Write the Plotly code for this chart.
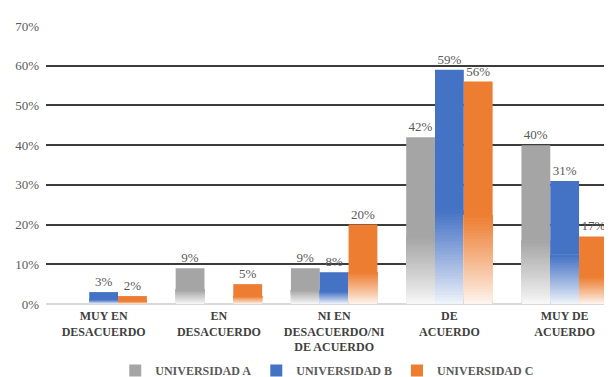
import plotly.graph_objects as go

# ---- data ----
categories = [
    "MUY EN<br>DESACUERDO",
    "EN<br>DESACUERDO",
    "NI EN<br>DESACUERDO/NI<br>DE ACUERDO",
    "DE<br>ACUERDO",
    "MUY DE<br>ACUERDO",
]
series_names = ["UNIVERSIDAD A", "UNIVERSIDAD B", "UNIVERSIDAD C"]
univ_a = [None, 9, 9, 42, 40]
univ_b = [3, None, 8, 59, 31]
univ_c = [2, 5, 20, 56, 17]
y_tick_vals = [0, 10, 20, 30, 40, 50, 60, 70]
y_tick_text = ["0%", "10%", "20%", "30%", "40%", "50%", "60%", "70%"]

# ---- style ----
series_colors = ["#a5a5a5", "#4472c4", "#ed7d31"]
FADE_FRAC = 0.4      # bottom share of each bar that fades to white
N_SLICES = 30
SERIF = "Times New Roman, Liberation Serif, serif"


def hex_to_rgb(h):
    h = h.lstrip("#")
    return tuple(int(h[i:i + 2], 16) for i in (0, 2, 4))


def blend(col, t):
    r, g, b = hex_to_rgb(col)
    return "rgb(%d,%d,%d)" % (
        round(255 + (r - 255) * t),
        round(255 + (g - 255) * t),
        round(255 + (b - 255) * t),
    )


fig = go.Figure()
label_font = dict(family=SERIF, size=13, color="#595959")

for name, vals, col in zip(series_names, [univ_a, univ_b, univ_c], series_colors):
    # full solid bar (carries legend + data label)
    fig.add_trace(go.Bar(
        name=name,
        x=categories,
        y=vals,
        marker=dict(color=col, line=dict(width=0)),
        text=[None if v is None else f"{v}%" for v in vals],
        textposition="outside",
        textfont=label_font,
        cliponaxis=False,
        constraintext="none",
        offsetgroup=name,
        legendgroup=name,
        showlegend=True,
        hoverinfo="skip",
    ))
    # fading lower part: overlapping layers, each reaching the top of the fade zone
    for j in range(N_SLICES):
        t = 0.06 + 0.94 * ((j + 0.5) / N_SLICES) ** 0.9
        fig.add_trace(go.Bar(
            x=categories,
            y=[None if v is None else v * FADE_FRAC * (1 - j / N_SLICES) for v in vals],
            base=[None if v is None else v * FADE_FRAC * j / N_SLICES for v in vals],
            marker=dict(color=blend(col, t), line=dict(width=0)),
            offsetgroup=name,
            legendgroup=name,
            showlegend=False,
            hoverinfo="skip",
        ))

fig.update_layout(
    width=612,
    height=377,
    margin=dict(l=38, r=0, t=18, b=80),
    paper_bgcolor="white",
    plot_bgcolor="white",
    barmode="group",
    bargap=0.25,
    bargroupgap=0,
    showlegend=True,
    legend=dict(
        orientation="h",
        x=0.49,
        xanchor="center",
        y=-0.24,
        yanchor="middle",
        font=dict(family=SERIF, size=12, color="#595959", weight="bold"),
        itemclick=False,
        itemdoubleclick=False,
    ),
    xaxis=dict(
        type="category",
        categoryorder="array",
        categoryarray=categories,
        range=[-0.5, 4.48],
        showgrid=False,
        showline=False,
        zeroline=False,
        ticks="",
        ticklabelstandoff=3,
        tickfont=dict(family=SERIF, size=12, color="#404040", weight="bold"),
    ),
    yaxis=dict(
        range=[0, 70],
        tickmode="array",
        tickvals=y_tick_vals,
        ticktext=y_tick_text,
        showgrid=True,
        gridcolor="#3c3c3c",
        gridwidth=1.5,
        zeroline=True,
        zerolinecolor="#d9d9d9",
        zerolinewidth=2,
        showline=False,
        ticks="",
        ticklabelstandoff=6,
        tickfont=dict(family=SERIF, size=13, color="#595959"),
    ),
)

fig.write_html("out.html")
